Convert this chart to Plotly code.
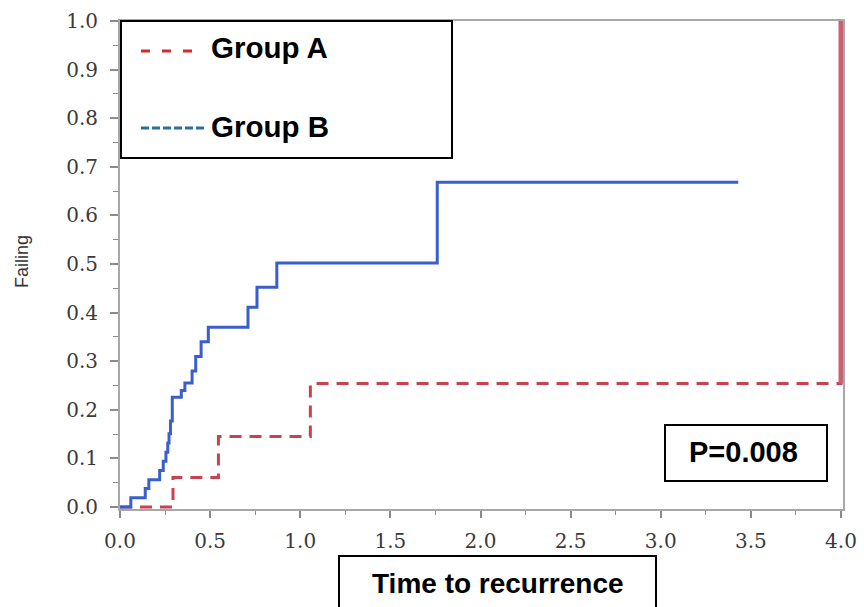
import plotly.graph_objects as go

# ---- data ----
blue_x = [0, 0.06, 0.14, 0.16, 0.22, 0.24, 0.255, 0.265, 0.272, 0.28, 0.29,
          0.34, 0.36, 0.40, 0.42, 0.45, 0.49, 0.71, 0.76, 0.87, 1.76, 3.43]
blue_y = [0, 0.019, 0.038, 0.056, 0.075, 0.094, 0.113, 0.132, 0.151, 0.177, 0.226,
          0.24, 0.255, 0.28, 0.31, 0.34, 0.37, 0.411, 0.452, 0.502, 0.668, 0.668]

red_x = [0, 0.294, 0.546, 1.056, 4.0]
red_y = [0, 0.061, 0.145, 0.254, 1.0]

x_ticks = [0.0, 0.5, 1.0, 1.5, 2.0, 2.5, 3.0, 3.5, 4.0]
x_ticklabels = ["0.0", "0.5", "1.0", "1.5", "2.0", "2.5", "3.0", "3.5", "4.0"]
y_ticks = [0.0, 0.1, 0.2, 0.3, 0.4, 0.5, 0.6, 0.7, 0.8, 0.9, 1.0]
y_ticklabels = ["0.0", "0.1", "0.2", "0.3", "0.4", "0.5", "0.6", "0.7", "0.8", "0.9", "1.0"]

group_names = ["Group A", "Group B"]
p_text = "P=0.008"
x_title = "Time to recurrence"
y_title = "Failing"

# ---- layout geometry ----
W, H = 864, 607
L, R, T, B = 120, 21, 21, 98
PW, PH = W - L - R, H - T - B


def px2x(px):
    return (px - L) / PW


def py2y(py):
    return (H - B - py) / PH


RED = "#c9424f"
RED_V = "#cc6073"
BLUE = "#3a5fcd"
LEG_BLUE = "#27709f"

fig = go.Figure()

fig.add_trace(go.Scatter(
    x=red_x, y=red_y, mode="lines", line_shape="hv",
    line=dict(color=RED, width=3, dash="12px,8px"),
    showlegend=False, hoverinfo="skip"))
fig.add_trace(go.Scatter(
    x=[red_x[-1], red_x[-1]], y=red_y[-2:], mode="lines",
    line=dict(color=RED_V, width=5),
    showlegend=False, hoverinfo="skip"))
fig.add_trace(go.Scatter(
    x=blue_x, y=blue_y, mode="lines", line_shape="hv",
    line=dict(color=BLUE, width=3),
    showlegend=False, hoverinfo="skip"))

shapes = []
annotations = []

# legend box
shapes.append(dict(type="rect", xref="paper", yref="paper",
                   x0=px2x(121), x1=px2x(452), y0=py2y(158), y1=py2y(21),
                   line=dict(color="black", width=2), fillcolor="white", layer="above"))
shapes.append(dict(type="line", xref="paper", yref="paper",
                   x0=px2x(141), x1=px2x(197), y0=py2y(51), y1=py2y(51),
                   line=dict(color="#d42a2a", width=3, dash="9px,12px"), layer="above"))
shapes.append(dict(type="line", xref="paper", yref="paper",
                   x0=px2x(141), x1=px2x(204), y0=py2y(128), y1=py2y(128),
                   line=dict(color=LEG_BLUE, width=3, dash="8px,3px"), layer="above"))
for name, py in zip(group_names, [48, 127]):
    annotations.append(dict(xref="paper", yref="paper", x=px2x(209), y=py2y(py),
                            text="<b>%s</b>" % name, showarrow=False,
                            xanchor="left", yanchor="middle",
                            font=dict(family="Arial, Liberation Sans", size=29.5, color="black")))

# P box
shapes.append(dict(type="rect", xref="paper", yref="paper",
                   x0=px2x(665), x1=px2x(827), y0=py2y(481), y1=py2y(425),
                   line=dict(color="black", width=2), fillcolor="white", layer="above"))
annotations.append(dict(xref="paper", yref="paper", x=px2x(743), y=py2y(452),
                        text="<b>%s</b>" % p_text, showarrow=False,
                        xanchor="center", yanchor="middle",
                        font=dict(family="Arial, Liberation Sans", size=29, color="black")))

# x title box
shapes.append(dict(type="rect", xref="paper", yref="paper",
                   x0=px2x(339), x1=px2x(656), y0=py2y(612), y1=py2y(556),
                   line=dict(color="black", width=2), fillcolor="white", layer="above"))
annotations.append(dict(xref="paper", yref="paper", x=px2x(498), y=py2y(583),
                        text="<b>%s</b>" % x_title, showarrow=False,
                        xanchor="center", yanchor="middle",
                        font=dict(family="Arial, Liberation Sans", size=28, color="black")))

# y title
annotations.append(dict(xref="paper", yref="paper", x=px2x(22), y=py2y(262),
                        text=y_title, showarrow=False, textangle=-90,
                        xanchor="center", yanchor="middle",
                        font=dict(family="Arial, Liberation Sans", size=18, color="#333333")))

tickfont = dict(family="DejaVu Serif", size=20, color="#3a3a3a")

fig.update_layout(
    width=W, height=H,
    margin=dict(l=L, r=R, t=T, b=B, pad=0, autoexpand=False),
    plot_bgcolor="white", paper_bgcolor="white",
    showlegend=False,
    shapes=shapes, annotations=annotations,
    xaxis=dict(range=[0, 4.0 * PW / (PW - 2)], tickmode="array",
               tickvals=x_ticks, ticktext=x_ticklabels, automargin=False,
               ticks="outside", ticklen=7, tickwidth=1.5, tickcolor="#8a8a8a",
               minor=dict(dtick=0.25, ticks="outside", ticklen=4, tickcolor="#8a8a8a", tickwidth=1.2),
               showline=True, linecolor="#a8a8a8", linewidth=2, mirror=True,
               showgrid=False, zeroline=False, tickfont=tickfont,
               ticklabelstandoff=6, layer="below traces", fixedrange=True),
    yaxis=dict(range=[-0.004, 1.0], tickmode="array",
               tickvals=y_ticks, ticktext=y_ticklabels, automargin=False,
               ticks="outside", ticklen=8, tickwidth=1.5, tickcolor="#8a8a8a",
               minor=dict(dtick=0.05, ticks="outside", ticklen=5, tickcolor="#8a8a8a", tickwidth=1.2),
               showline=True, linecolor="#a8a8a8", linewidth=2, mirror=True,
               showgrid=False, zeroline=False, tickfont=tickfont,
               ticklabelstandoff=8, layer="below traces", fixedrange=True),
)

fig.write_html("out.html")
